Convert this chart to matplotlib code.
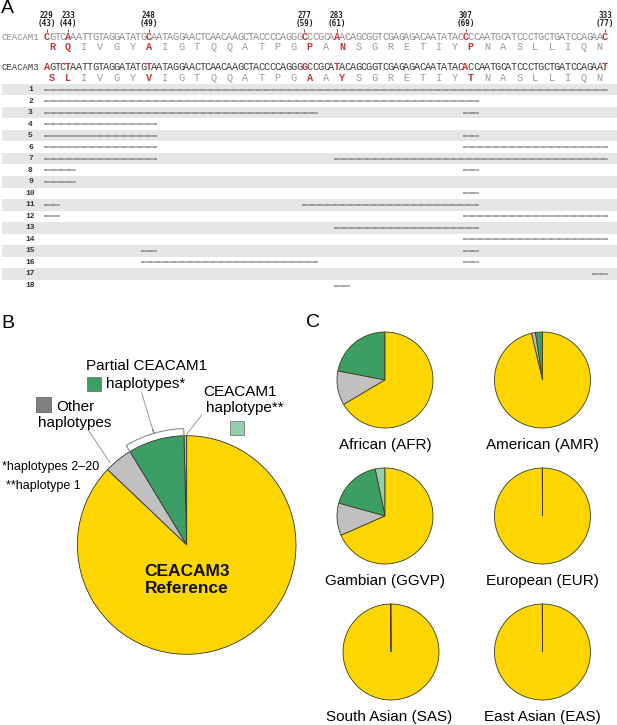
import numpy as np
import matplotlib.pyplot as plt
from matplotlib.patches import Rectangle

# данные панели A
nt_pos = [229, 233, 248, 277, 283, 307, 333]
aa_pos = [43, 44, 49, 59, 61, 69, 77]
seq_c1 = "CGTCAAATTGTAGGATATGCAATAGGAACTCAACAAGCTACCCCAGGGCCCGCAAACAGCGGTCGAGAGACAATATACCCCAATGCATCCCTGCTGATCCAGAAC"
seq_c3 = "AGTCTAATTGTAGGATATGTAATAGGAACTCAACAAGCTACCCCAGGGGCCGCATACAGCGGTCGAGAGACAATATACACCAATGCATCCCTGCTGATCCAGAAT"
aa_c1 = "RQIVGYAIGTQQATPGPANSGRETIYPNASLLIQN"
aa_c3 = "SLIVGYVIGTQQATPGAAYSGRETIYTNASLLIQN"

# участки гаплотипов (номера кодонов, от-до)
hap_segments = [
    [(0, 34)],
    [(0, 26)],
    [(0, 16), (26, 26)],
    [(0, 6)],
    [(0, 6), (26, 26)],
    [(0, 6), (26, 34)],
    [(0, 6), (18, 34)],
    [(0, 1), (26, 26)],
    [(0, 1)],
    [(26, 26)],
    [(0, 0), (16, 26)],
    [(0, 0), (26, 34)],
    [(18, 26)],
    [(26, 34)],
    [(6, 6), (26, 26)],
    [(6, 16), (26, 26)],
    [(34, 34)],
    [(18, 18)],
]

# данные панели B
b_values = [0.4, 8.3, 4.2, 87.1]   # CEACAM1, partial CEACAM1, other, reference
colors = ['#93cfaa', '#3c9e63', '#c0c0c0', '#fdd600']

# данные панели C
pops = ['African (AFR)', 'American (AMR)', 'Gambian (GGVP)',
        'European (EUR)', 'South Asian (SAS)', 'East Asian (EAS)']
c1_full = [0, 0, 3.3, 0, 0, 0]
c1_partial = [22.0, 2.4, 17.4, 0.1, 0.1, 0.1]
other = [11.5, 1.3, 10.9, 0, 0, 0]
ref = [66.5, 96.3, 68.4, 99.9, 99.9, 99.9]

W, H = 617, 725
fig = plt.figure(figsize=(W / 100, H / 100), dpi=100)

red = '#c4363a'
mono = 'Liberation Mono'
sans = 'Liberation Sans'

# ---------------- панель A ----------------
axA = fig.add_axes([0, 1 - 300 / H, 1, 300 / H])
x0, dx = 46.7, 5.37      # px центра первого нуклеотида, шаг
y1, dy = 89.5, 11.53     # px центра первой строки, шаг
axA.set_xlim((0 - x0) / dx, (W - x0) / dx)
axA.set_ylim(1 + (300 - y1) / dy, 1 - y1 / dy)
axA.axis('off')

def row(px):
    return 1 + (px - y1) / dy

def col(px):
    return (px - x0) / dx

n_rows = len(hap_segments)
for r in range(1, n_rows + 1, 2):
    axA.axhspan(r - 0.5, r + 0.5, xmin=2 / W, xmax=1, color='#e6e6e6', lw=0, zorder=0)

for i, segs in enumerate(hap_segments):
    r = i + 1
    axA.text(col(30.5), r, str(r), ha='center', va='center', fontsize=5.8,
             family=mono, weight='bold', color='#333')
    for c0, c1 in segs:
        axA.hlines(r, 3 * c0 - 0.5, 3 * c1 + 2.5, color='#505050',
                   lw=1.1, linestyles=(0, (0.45, 0.3)), zorder=2)

mut_off = [p - nt_pos[0] for p in nt_pos]
for off, p, a in zip(mut_off, nt_pos, aa_pos):
    axA.text(off, row(15.5), str(p), ha='center', va='center', fontsize=5.5,
             family='DejaVu Sans Mono', weight='bold', color='#222')
    axA.text(off, row(23.5), '(%d)' % a, ha='center', va='center', fontsize=5.5,
             family='DejaVu Sans Mono', weight='bold', color='#222')
    axA.vlines(off, row(28.5), row(32), color='#444', lw=0.6)

fsq = 7.4
axA.text(col(1.5), row(37.5), 'CEACAM1', ha='left', va='center', fontsize=6.4,
         family=mono, color='#8c8c8c')
axA.text(col(1.5), row(67), 'CEACAM3', ha='left', va='center', fontsize=6.4,
         family=mono, color='#3a3a3a')
for k in range(len(seq_c1)):
    m = k in mut_off
    axA.text(k, row(37.5), seq_c1[k], ha='center', va='center', fontsize=fsq,
             family=mono, color=red if m else '#8c8c8c',
             weight='bold' if m else 'normal')
    axA.text(k, row(67), seq_c3[k], ha='center', va='center', fontsize=fsq,
             family=mono, color=red if m else '#3a3a3a',
             weight='bold' if m else 'normal')
for k in range(len(aa_c1)):
    m = aa_c1[k] != aa_c3[k]
    axA.text(3 * k + 1, row(46.5), aa_c1[k], ha='center', va='center', fontsize=fsq,
             family=mono, color=red if m else '#9a9a9a',
             weight='bold' if m else 'normal')
    axA.text(3 * k + 1, row(78), aa_c3[k], ha='center', va='center', fontsize=fsq,
             family=mono, color=red if m else '#9a9a9a',
             weight='bold' if m else 'normal')

# ---------------- панель B ----------------
cx, cy, rad = 186.7, 545, 109.3
axB = fig.add_axes([(cx - rad) / W, (H - cy - rad) / H, 2 * rad / W, 2 * rad / H])
axB.pie(b_values, colors=colors, startangle=90, counterclock=True,
        wedgeprops=dict(edgecolor='#333', linewidth=0.6))
axB.set_xlim(-1, 1)
axB.set_ylim(-1, 1)

# скобка над частичными гаплотипами
cum = np.cumsum([0] + b_values) / sum(b_values) * 360 + 90
a0, a1 = np.radians(cum[1]), np.radians(cum[2])
am = (a0 + a1) / 2
rb, rt = 1.065, 1.1
t1 = np.linspace(a1, am, 30)
t2 = np.linspace(am, a0, 30)
bx = np.concatenate([[np.cos(a1)], rb * np.cos(t1), [rt * np.cos(am)], rb * np.cos(t2), [np.cos(a0)]])
by = np.concatenate([[np.sin(a1)], rb * np.sin(t1), [rt * np.sin(am)], rb * np.sin(t2), [np.sin(a0)]])
axB.plot(bx, by, color='#8a8a8a', lw=0.8, clip_on=False)
tip_px = (cx + rt * np.cos(am) * rad, cy - rt * np.sin(am) * rad)

axB.text(0, -0.32, 'CEACAM3\nReference', ha='center', va='center', fontsize=12.5,
         family=sans, weight='bold', color='#111', linespacing=1.15)

# ---------------- панель C ----------------
c_cx = [385, 542.5, 385, 542.5, 391, 542.5]
c_cy = [380, 380, 516, 516, 652, 652]
c_r = 48
for i, name in enumerate(pops):
    ax = fig.add_axes([(c_cx[i] - c_r) / W, (H - c_cy[i] - c_r) / H, 2 * c_r / W, 2 * c_r / H])
    vals = [c1_full[i], c1_partial[i], other[i], ref[i]]
    ax.pie(vals, colors=colors, startangle=90, counterclock=True,
           wedgeprops=dict(edgecolor='#3d3a20', linewidth=0.6))
    ax.set_xlim(-1, 1)
    ax.set_ylim(-1, 1)

# ---------------- подписи поверх ----------------
ov = fig.add_axes([0, 0, 1, 1], zorder=10)
ov.set_xlim(0, W)
ov.set_ylim(H, 0)
ov.axis('off')

ov.text(1, 8, 'A', fontsize=14, family=sans, ha='left', va='center')
ov.text(1, 323, 'B', fontsize=14, family=sans, ha='left', va='center')
ov.text(306, 322, 'C', fontsize=14, family=sans, ha='left', va='center')

fs = 11
ov.text(86, 366, 'Partial CEACAM1', fontsize=fs, family=sans, ha='left', va='center')
ov.text(106, 384, 'haplotypes*', fontsize=fs, family=sans, ha='left', va='center')
ov.add_patch(Rectangle((86.7, 377), 14.3, 14.3, facecolor=colors[1], edgecolor='#666', lw=0.5))
ov.text(203, 392, 'CEACAM1', fontsize=fs, family=sans, ha='left', va='center')
ov.text(206, 408, 'haplotype**', fontsize=fs, family=sans, ha='left', va='center')
ov.add_patch(Rectangle((230, 421), 14.3, 14.3, facecolor=colors[0], edgecolor='#666', lw=0.5))
ov.text(56, 407, 'Other', fontsize=fs, family=sans, ha='left', va='center')
ov.text(38, 423, 'haplotypes', fontsize=fs, family=sans, ha='left', va='center')
ov.add_patch(Rectangle((36, 397), 14.5, 14.5, facecolor='#7f7f7f', edgecolor='#555', lw=0.5))
ov.text(1.5, 467, '*haplotypes 2\u201320', fontsize=9, family=sans, ha='left', va='center')
ov.text(6.5, 486, '**haplotype 1', fontsize=9, family=sans, ha='left', va='center')

ov.plot([141.7, tip_px[0]], [393, tip_px[1]], color='#999', lw=0.7)
ov.plot([88.3, 110], [430, 462.7], color='#999', lw=0.7)
ov.plot([201.7, 186.5], [415, 434.5], color='#999', lw=0.7)

for i, name in enumerate(pops):
    ov.text(c_cx[i] - 2 * (i == 4), c_cy[i] + 65, name, fontsize=fs, family=sans,
            ha='center', va='center')

fig.savefig('out.png', dpi=100)
